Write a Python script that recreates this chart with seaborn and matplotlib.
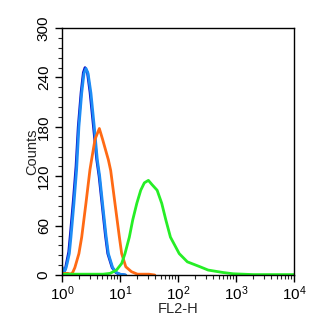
import numpy as np
import pandas as pd
import matplotlib
matplotlib.use("Agg")
import matplotlib.pyplot as plt
from matplotlib.ticker import FixedLocator, LogLocator, NullFormatter
import seaborn as sns

# ---- data (FL2-H intensity, counts) ----
navy_x = [1.0, 1.08, 1.15, 1.21, 1.31, 1.40, 1.57, 1.75, 1.91, 2.14, 2.34, 2.50,
          2.75, 3.05, 3.50, 3.98, 4.37, 4.90, 5.62, 6.17, 7.33, 8.51, 9.8, 12.3]
navy_y = [8, 3, 8, 16, 28, 50, 90, 132, 180, 222, 246, 252,
          246, 222, 180, 140, 120, 87, 48, 26, 9, 3, 1, 0]

blue_x = [1.0, 1.10, 1.17, 1.23, 1.34, 1.43, 1.61, 1.79, 1.96, 2.19, 2.40, 2.60,
          2.82, 3.16, 3.61, 4.07, 4.47, 5.01, 5.75, 6.31, 7.48, 8.71, 10.0, 12.6]
blue_y = [10, 4, 8, 14, 26, 46, 87, 128, 180, 221, 245, 251,
          245, 221, 180, 140, 120, 87, 48, 26, 9, 3, 1, 0]

orange_x = [1.0, 1.26, 1.41, 1.53, 1.67, 1.96, 2.19, 2.59, 3.04, 3.24, 3.72, 4.41,
            5.01, 5.75, 6.31, 6.92, 8.20, 9.77, 10.7, 12.6, 15.8, 20.0, 31.6, 39.8]
orange_y = [2, 2, 1, 3, 9, 26, 46, 87, 128, 140, 165, 178,
            165, 150, 140, 127, 87, 46, 26, 10, 4, 1, 1, 0]

green_x = [1.0, 3.16, 5.13, 6.76, 8.71, 10.7, 12.2, 14.5, 16.6, 19.5, 22.8, 26.3,
           30.9, 35.5, 43.7, 52.5, 61.7, 74.1, 105, 145, 240, 331, 603, 891,
           1318, 1995, 10000]
green_y = [1, 1, 1, 2, 6, 14, 26, 46, 67, 87, 103, 112,
           115, 110, 103, 87, 67, 46, 26, 16, 10, 6, 3, 1.5,
           1, 0.5, 0.5]

y_ticks = [0, 60, 120, 180, 240, 300]
x_ticks = [1, 10, 100, 1000, 10000]
x_tick_labels = ["$10^0$", "$10^1$", "$10^2$", "$10^3$", "$10^4$"]

series = [
    ("navy", navy_x, navy_y, "#0a14c8"),
    ("blue", blue_x, blue_y, "#1e8cf5"),
    ("orange", orange_x, orange_y, "#ff6a14"),
    ("green", green_x, green_y, "#26ee26"),
]

sns.set_style("ticks")
plt.rcParams["font.family"] = ["Liberation Sans", "DejaVu Sans"]
plt.rcParams["mathtext.fontset"] = "custom"
plt.rcParams["mathtext.rm"] = "Liberation Sans"
plt.rcParams["mathtext.it"] = "Liberation Sans"
plt.rcParams["mathtext.default"] = "regular"

fig = plt.figure(figsize=(3.26, 3.27), dpi=100)
ax = fig.add_axes([0.190, 0.159, 0.712, 0.755])

for name, xs, ys, col in series:
    df = pd.DataFrame({"x": xs, "y": ys})
    sns.lineplot(data=df, x="x", y="y", ax=ax, color=col, linewidth=2.0,
                 estimator=None, sort=False)

ax.set_xscale("log")
ax.set_xlim(1, 10000)
ax.set_ylim(0, 300)

ax.set_xticks(x_ticks)
ax.set_xticklabels(x_tick_labels)
ax.xaxis.set_minor_locator(LogLocator(base=10, subs=np.arange(2, 10)))
ax.xaxis.set_minor_formatter(NullFormatter())

ax.set_yticks(y_ticks)
ax.set_yticklabels([str(v) for v in y_ticks], rotation=90, va="center")
ax.yaxis.set_minor_locator(FixedLocator(np.arange(0, 301, 12)))

for s in ax.spines.values():
    s.set_linewidth(1.0)
    s.set_color("black")
    s.set_visible(True)

ax.tick_params(axis="both", which="major", direction="out", length=5, width=1,
               labelsize=11, colors="black")
ax.tick_params(axis="both", which="minor", direction="out", length=3, width=0.8)
ax.tick_params(axis="y", which="major", pad=3)
ax.tick_params(axis="x", which="major", pad=2)

ax.set_xlabel("FL2-H", fontsize=10.5, labelpad=-1)
ax.set_ylabel("Counts", fontsize=10.5, labelpad=-2)

fig.savefig("out.png", dpi=100)
